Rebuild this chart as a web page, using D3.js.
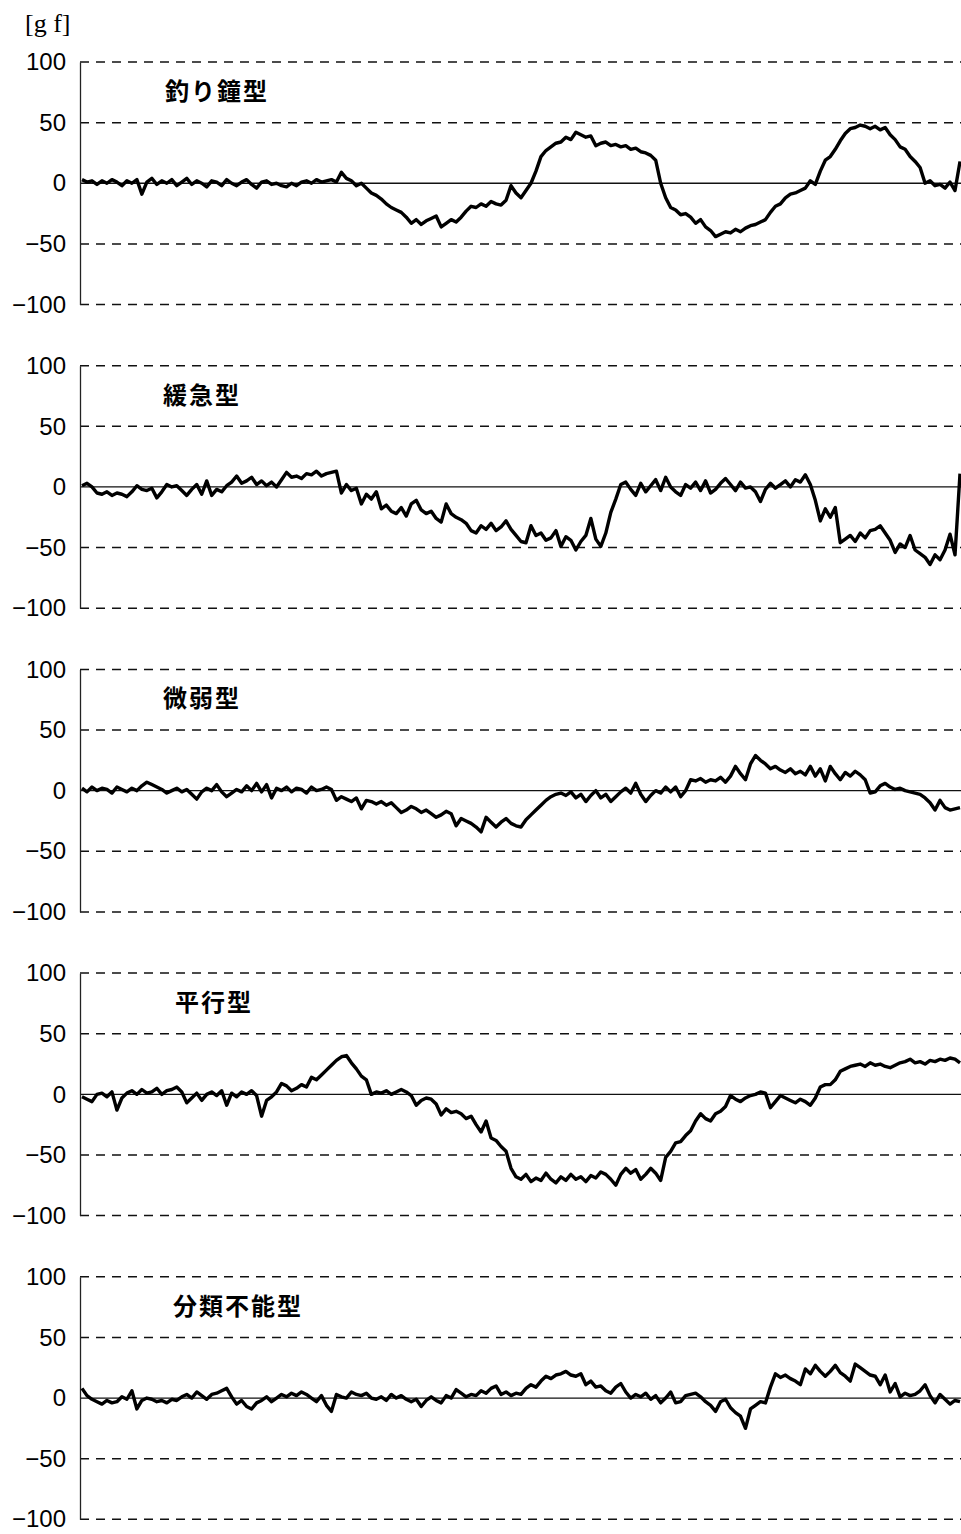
<!DOCTYPE html>
<html>
<head>
<meta charset="utf-8">
<script src="https://cdn.jsdelivr.net/npm/d3@7"></script>
<style>
  html, body { margin: 0; padding: 0; background: #fff; }
  svg { display: block; }
</style>
</head>
<body>
<div id="chart"></div>
<script>
(function(){
  'use strict';

  // panel titles, y ticks and unit
  var titles = ['釣り鐘型', '緩急型', '微弱型', '平行型', '分類不能型'];
  var yTicks = [100, 50, 0, -50, -100];
  var unitLabel = '[g f]';

  // force traces [gf], one sample every ~5px
  var bell = [
    3, 1, 2, -1, 2, 0, 3, 1, -2, 2,
    0, 3, -9, 1, 4, -1, 2, 0, 3, -2,
    1, 4, -1, 2, 0, -3, 2, 1, -2, 3,
    0, -2, 1, 3, -1, -4, 1, 2, -1, 0,
    -2, -3, 0, -2, 1, 2, 0, 3, 1, 2,
    3, 1, 9, 4, 2, -2, 0, -4, -8, -10,
    -13, -17, -20, -22, -24, -28, -33, -30, -34, -31,
    -29, -27, -36, -33, -30, -32, -28, -23, -19, -20,
    -17, -19, -15, -17, -18, -14, -2, -8, -12, -6,
    0, 10, 22, 27, 30, 33, 34, 38, 36, 42,
    40, 38, 39, 31, 33, 34, 31, 32, 30, 31,
    28, 29, 26, 25, 23, 19, 0, -12, -20, -22,
    -26, -25, -28, -33, -30, -36, -39, -44, -42, -40,
    -41, -38, -40, -37, -35, -34, -32, -30, -24, -19,
    -17, -12, -9, -8, -6, -4, 2, -1, 10, 19,
    22, 28, 35, 41, 45, 46, 48, 47, 45, 47,
    44, 46, 40, 36, 30, 28, 22, 18, 13, 0,
    2, -2, -1, -4, 1, -6, 18
  ];

  var slowFast = [
    1, 3, 0, -5, -6, -4, -7, -5, -6, -8,
    -4, 1, -2, -3, -1, -9, -4, 2, 0, 1,
    -3, -7, -2, 2, -6, 5, -7, -2, -4, 1,
    4, 9, 3, 5, 8, 2, 5, 1, 4, 0,
    6, 12, 8, 9, 7, 11, 10, 13, 9, 11,
    12, 13, -5, 2, -3, -1, -14, -6, -10, -4,
    -18, -15, -20, -22, -17, -24, -14, -11, -19, -22,
    -20, -26, -29, -14, -22, -25, -27, -30, -36, -38,
    -32, -35, -30, -36, -33, -28, -35, -40, -45, -46,
    -32, -40, -38, -44, -42, -36, -49, -41, -44, -52,
    -45, -40, -26, -43, -49, -38, -21, -10, 2, 4,
    -2, -7, 3, -4, 1, 6, -3, 8, 0, -4,
    -7, 2, -1, 4, -3, 5, -5, -2, 3, 7,
    2, -3, 4, -1, 0, -4, -12, -2, 3, -1,
    2, 5, 0, 6, 4, 10, 2, -11, -28, -18,
    -25, -17, -46, -43, -40, -45, -38, -42, -36, -35,
    -32, -38, -44, -54, -47, -50, -40, -52, -55, -58,
    -64, -56, -60, -52, -39, -56, 11
  ];

  var weak = [
    2, -1, 3, 0, 2, 1, -2, 3, 1, -1,
    2, 0, 4, 7, 5, 3, 1, -2, 0, 2,
    -1, 1, -3, -7, -1, 2, 0, 5, -1, -5,
    -2, 1, -1, 4, 0, 6, -1, 5, -6, 2,
    0, 3, -1, 2, 1, -2, 3, 0, 1, 3,
    1, -8, -5, -7, -9, -6, -15, -8, -9, -11,
    -9, -12, -10, -14, -18, -16, -13, -15, -18, -16,
    -19, -22, -20, -17, -19, -29, -23, -25, -27, -30,
    -34, -22, -26, -30, -26, -23, -27, -29, -30, -24,
    -20, -16, -12, -8, -5, -3, -2, -4, -1, -6,
    -3, -9, -4, 0, -6, -3, -9, -5, -1, 2,
    -2, 6, -3, -9, -4, 0, -2, 3, -1, 3,
    -5, 0, 9, 8, 10, 7, 9, 8, 11, 7,
    12, 20, 14, 9, 22, 29, 25, 22, 18, 20,
    17, 15, 18, 14, 16, 13, 20, 12, 18, 8,
    20, 14, 9, 15, 12, 16, 13, 9, -2, -1,
    4, 6, 3, 1, 2, 0, -1, -2, -3, -6,
    -10, -16, -8, -14, -16, -15, -14
  ];

  var parallel = [
    -2, -4, -6, 0, 1, -2, 2, -13, -3, 1,
    3, 0, 4, 1, 2, 5, 0, 3, 4, 6,
    2, -7, -3, 1, -5, 0, 2, -1, 3, -9,
    1, -2, 2, 0, 3, -1, -18, -5, -2, 2,
    9, 7, 3, 5, 8, 6, 14, 12, 16, 20,
    24, 28, 31, 32, 26, 21, 15, 12, 0, 2,
    1, 3, 0, 2, 4, 2, -1, -9, -5, -3,
    -4, -8, -17, -12, -15, -14, -16, -20, -18, -25,
    -31, -22, -36, -38, -43, -47, -61, -68, -70, -66,
    -72, -69, -71, -65, -70, -73, -68, -71, -66, -70,
    -68, -72, -67, -69, -64, -66, -70, -75, -66, -61,
    -65, -62, -70, -66, -61, -65, -71, -52, -47, -40,
    -39, -34, -30, -22, -16, -20, -22, -16, -14, -10,
    -1, -4, -6, -3, -1, 0, 2, 1, -11, -6,
    -1, -3, -5, -7, -4, -6, -9, -3, 6, 8,
    8, 12, 19, 21, 23, 24, 25, 23, 26, 24,
    25, 23, 22, 24, 26, 27, 29, 26, 27, 25,
    28, 27, 29, 28, 30, 29, 26
  ];

  var unclassified = [
    8, 2, -1, -3, -5, -2, -4, -3, 1, -1,
    6, -9, -2, 0, -1, -3, -2, -4, -1, -2,
    1, 3, 0, 5, 2, -1, 3, 4, 6, 8,
    1, -5, -2, -7, -9, -4, -2, 1, -3, 0,
    3, 1, 4, 2, 5, 3, 0, -3, 2, -6,
    -11, 3, 1, 0, 5, 3, 2, 4, 0, -1,
    1, -2, 3, 0, 2, -1, -3, -1, -7, -2,
    1, -2, -4, 2, 0, 7, 4, 1, 3, 2,
    6, 4, 8, 10, 3, 5, 2, 4, 3, 8,
    11, 9, 14, 18, 16, 19, 20, 22, 19, 18,
    20, 11, 14, 9, 10, 6, 4, 9, 12, 5,
    0, 3, 1, 4, -1, 2, -4, 0, 5, -4,
    -3, 2, 3, 4, 1, -3, -6, -11, -3, -1,
    -8, -12, -15, -25, -9, -6, -3, -4, 9, 20,
    17, 19, 16, 14, 11, 24, 20, 27, 22, 18,
    22, 27, 21, 18, 14, 28, 25, 22, 19, 18,
    11, 19, 5, 12, 1, 4, 2, 3, 6, 11,
    2, -4, 3, -1, -5, -2, -3
  ];

  var series = [bell, slowFast, weak, parallel, unclassified];

  var width = 961,
      height = 1534,
      left = 80,
      right = 961,
      top0 = 62,
      step = 303.7,
      ph = 242.5,
      titleX = [165, 163, 163, 175, 173];

  var svg = d3.select('#chart')
    .append('svg')
    .attr('width', width)
    .attr('height', height);

  svg.append('text')
    .text(unitLabel)
    .attr('x', 25)
    .attr('y', 32)
    .style('font-family', '"Liberation Serif", "DejaVu Serif", serif')
    .style('font-size', '26px')
    .style('fill', '#000');

  var x = d3.scaleLinear()
    .domain([0, bell.length - 1])
    .range([left + 2, right - 1]);

  var y = d3.scaleLinear()
    .domain([-100, 100])
    .range([ph, 0]);

  var line = d3.line()
    .x(function(d, i){ return x(i); })
    .y(function(d){ return y(d); });

  var panels = svg.selectAll('.panel')
    .data(series)
    .enter()
    .append('g')
    .attr('class', 'panel')
    .attr('transform', function(d, i){
      return 'translate(0,' + (top0 + i * step) + ')';
    });

  // grid: dashed except the zero line
  panels.selectAll('.grid')
    .data(yTicks)
    .enter()
    .append('line')
    .attr('class', 'grid')
    .attr('x1', left)
    .attr('x2', right)
    .attr('y1', function(d){ return y(d); })
    .attr('y2', function(d){ return y(d); })
    .style('stroke', '#111')
    .style('stroke-width', function(d){ return d === 0 ? 1.3 : 1.5; })
    .style('stroke-dasharray', function(d){ return d === 0 ? null : '9,7'; });

  // left axis with labels
  panels.append('g')
    .attr('transform', 'translate(' + left + ',0)')
    .call(d3.axisLeft(y).tickValues(yTicks).tickSize(0).tickPadding(14))
    .call(function(g){
      g.select('.domain').style('stroke', '#222').style('stroke-width', 1.3);
      g.selectAll('text')
        .style('font-family', '"Liberation Sans", Arial, sans-serif')
        .style('font-size', '24px')
        .style('fill', '#000');
    });

  panels.append('path')
    .attr('d', line)
    .style('fill', 'none')
    .style('stroke', '#000')
    .style('stroke-width', 3.4)
    .style('stroke-linejoin', 'round');

  panels.append('text')
    .text(function(d, i){ return titles[i]; })
    .attr('x', function(d, i){ return titleX[i]; })
    .attr('y', 38)
    .style('font-family', '"Noto Sans CJK JP", sans-serif')
    .style('font-weight', 'bold')
    .style('font-size', '24px')
    .style('letter-spacing', '2px')
    .style('fill', '#000');

})();
</script>
</body>
</html>
